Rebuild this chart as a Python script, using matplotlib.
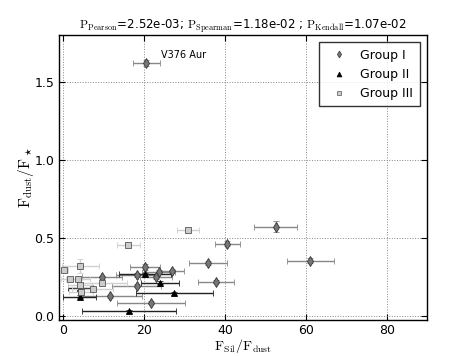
import matplotlib
matplotlib.use("Agg")
import matplotlib.pyplot as plt
from matplotlib.lines import Line2D

plt.rcParams['mathtext.fontset'] = 'cm'
plt.rcParams['font.family'] = 'DejaVu Sans'

# Group I (diamonds)
g1_x = [20.6, 52.6, 40.6, 35.9, 61.1, 37.8, 20.3, 26.9, 23.6, 18.2, 22.9, 9.6, 18.2, 11.6, 21.8]
g1_y = [1.62, 0.572, 0.463, 0.34, 0.355, 0.22, 0.314, 0.288, 0.284, 0.263, 0.248, 0.248, 0.194, 0.126, 0.085]
g1_xe = [3.4, 5.3, 3.1, 4.7, 5.8, 4.5, 3.7, 3.0, 4.0, 5.0, 4.0, 5.0, 6.0, 8.0, 8.4]
g1_ye = [0.02, 0.034, 0.015, 0.01, 0.015, 0.01, 0.02, 0.01, 0.01, 0.01, 0.01, 0.01, 0.01, 0.01, 0.01]

# Group II (triangles)
g2_x = [20.3, 24.0, 27.5, 4.3, 4.1, 16.3]
g2_y = [0.267, 0.213, 0.145, 0.18, 0.124, 0.032]
g2_xe = [6.5, 4.7, 9.5, 3.0, 4.0, 11.7]
g2_ye = [0.01, 0.01, 0.01, 0.01, 0.01, 0.01]

# Group III (squares)
g3_x = [30.8, 16.1, 0.2, 4.3, 1.6, 3.7, 9.7, 7.3, 4.5, 4.1]
g3_y = [0.553, 0.457, 0.295, 0.32, 0.24, 0.24, 0.21, 0.175, 0.156, 0.20]
g3_xe = [2.7, 2.8, 1.0, 4.5, 2.0, 3.0, 6.0, 5.0, 3.0, 3.0]
g3_ye = [0.01, 0.01, 0.01, 0.045, 0.01, 0.01, 0.01, 0.01, 0.01, 0.01]

labels = ['Group I', 'Group II', 'Group III']
title = (r'$\mathrm{P_{Pearson}}$=2.52e-03; $\mathrm{P_{Spearman}}$=1.18e-02 ; '
         r'$\mathrm{P_{Kendall}}$=1.07e-02')

fig = plt.figure(figsize=(4.74, 3.56), dpi=100)
ax = fig.add_axes([0.1245, 0.101, 0.7765, 0.8007])

styles = [
    dict(fmt='d', ecolor='#888888', mec='#333333', mfc='#777777'),
    dict(fmt='^', ecolor='#222222', mec='black', mfc='black'),
    dict(fmt='s', ecolor='#d0d0d0', mec='#555555', mfc='#cccccc'),
]
data = [(g1_x, g1_y, g1_xe, g1_ye), (g2_x, g2_y, g2_xe, g2_ye), (g3_x, g3_y, g3_xe, g3_ye)]
handles = []
for (x, y, xe, ye), st, lab in zip(data, styles, labels):
    ax.errorbar(x, y, xerr=xe, yerr=ye, fmt=st['fmt'], ecolor=st['ecolor'], mec=st['mec'],
                mfc=st['mfc'], ms=5, elinewidth=1, capsize=2, mew=0.6, zorder=3)
    handles.append(Line2D([], [], linestyle='none', marker=st['fmt'], mec=st['mec'],
                          mfc=st['mfc'], ms=3.5, mew=0.5))

ax.annotate('V376 Aur', xy=(24.2, 1.67), fontsize=7, ha='left', va='center')

ax.set_xlim(-1, 90)
ax.set_ylim(-0.025, 1.8)
ax.set_xticks([0, 20, 40, 60, 80])
ax.set_yticks([0.0, 0.5, 1.0, 1.5])
ax.set_yticklabels(['0.0', '0.5', '1.0', '1.5'])
ax.tick_params(direction='in', labelsize=9, length=4, top=True, right=True)
ax.tick_params(axis='x', pad=2.5)
ax.grid(True, linestyle=':', color='#888888', linewidth=0.7)
for s in ax.spines.values():
    s.set_linewidth(1)

ax.set_xlabel(r'$\mathrm{F_{Sil}/F_{dust}}$', fontsize=10, labelpad=0.5)
ax.set_ylabel(r'$\mathrm{F_{dust}/F_\star}$', fontsize=11, labelpad=-1)
ax.set_title(title, fontsize=8.5, pad=4)

leg = ax.legend(handles, labels, loc='upper right', fontsize=9, fancybox=False,
                borderaxespad=0.6, handlelength=2.2, handletextpad=0.6, borderpad=0.5)
leg.get_frame().set_edgecolor('black')
leg.get_frame().set_linewidth(1)

fig.savefig('out.png', dpi=100)
